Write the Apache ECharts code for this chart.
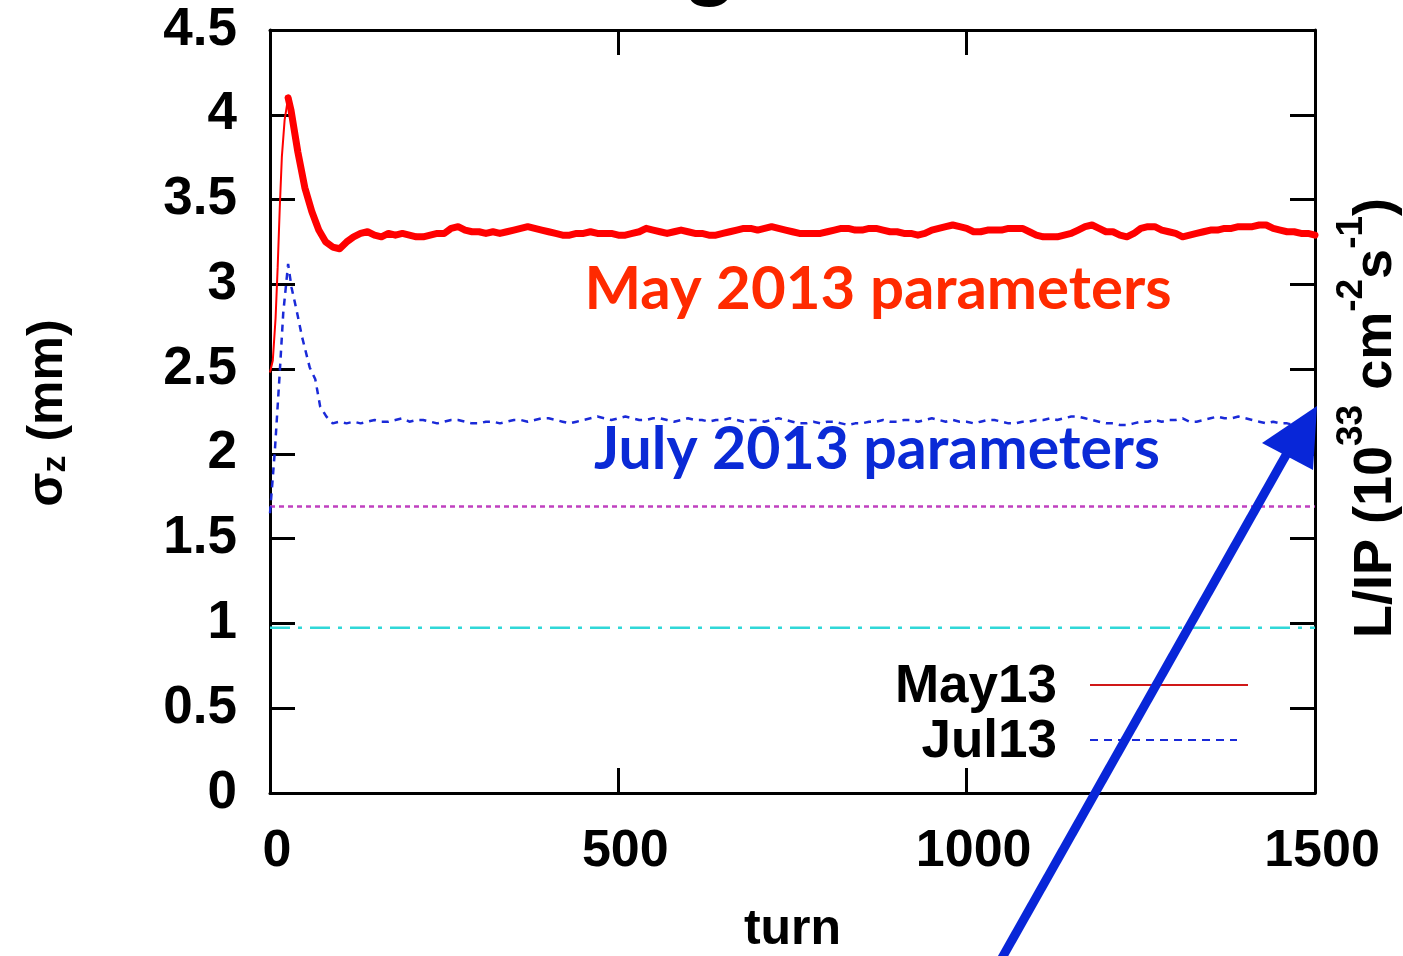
<!DOCTYPE html>
<html>
<head>
<meta charset="utf-8">
<script src="https://cdn.jsdelivr.net/npm/echarts@6/dist/echarts.min.js"></script>
<style>
  html, body { margin: 0; padding: 0; background: #fff; }
  #chart { width: 1403px; height: 956px; }
</style>
</head>
<body>
<div id="chart"></div>
<script>
// Bunch length sigma_z (mm) versus turn, two parameter sets

// May13: fast rise to the peak, then the noisy equilibrium
const mayRiseTurns = [0, 4, 8, 11, 14, 17, 21, 26];
const mayRiseSigma = [2.48, 2.55, 2.80, 3.10, 3.45, 3.75, 3.97, 4.10];

const mayTurns = [26, 30, 40, 50, 60, 70, 80, 90, 100, 110, 120, 130, 140, 150, 160, 170, 180, 190, 200,
  210, 220, 230, 240, 250, 260, 270, 280, 290, 300, 310, 320, 330, 340, 350, 360, 370, 380, 390, 400,
  410, 420, 430, 440, 450, 460, 470, 480, 490, 500, 510, 520, 530, 540, 550, 560, 570, 580, 590, 600,
  610, 620, 630, 640, 650, 660, 670, 680, 690, 700, 710, 720, 730, 740, 750, 760, 770, 780, 790, 800,
  810, 820, 830, 840, 850, 860, 870, 880, 890, 900, 910, 920, 930, 940, 950, 960, 970, 980, 990, 1000,
  1010, 1020, 1030, 1040, 1050, 1060, 1070, 1080, 1090, 1100, 1110, 1120, 1130, 1140, 1150, 1160, 1170, 1180, 1190, 1200,
  1210, 1220, 1230, 1240, 1250, 1260, 1270, 1280, 1290, 1300, 1310, 1320, 1330, 1340, 1350, 1360, 1370, 1380, 1390, 1400,
  1410, 1420, 1430, 1440, 1450, 1460, 1470, 1480, 1490, 1500];
const maySigma = [4.10, 4.03, 3.78, 3.57, 3.43, 3.32, 3.25, 3.22, 3.21, 3.25, 3.28, 3.30, 3.31, 3.29, 3.28, 3.30, 3.29, 3.30, 3.29,
  3.28, 3.28, 3.29, 3.30, 3.30, 3.33, 3.34, 3.32, 3.31, 3.31, 3.30, 3.31, 3.30, 3.31, 3.32, 3.33, 3.34, 3.33, 3.32, 3.31,
  3.30, 3.29, 3.29, 3.30, 3.30, 3.31, 3.30, 3.30, 3.30, 3.29, 3.29, 3.30, 3.31, 3.33, 3.32, 3.31, 3.30, 3.31, 3.32, 3.31,
  3.30, 3.30, 3.29, 3.29, 3.30, 3.31, 3.32, 3.33, 3.33, 3.32, 3.33, 3.34, 3.33, 3.32, 3.31, 3.30, 3.30, 3.30, 3.30, 3.31,
  3.32, 3.33, 3.33, 3.32, 3.32, 3.33, 3.33, 3.32, 3.31, 3.31, 3.30, 3.30, 3.29, 3.30, 3.32, 3.33, 3.34, 3.35, 3.34, 3.33,
  3.31, 3.31, 3.32, 3.32, 3.32, 3.33, 3.33, 3.33, 3.31, 3.29, 3.28, 3.28, 3.28, 3.29, 3.30, 3.32, 3.34, 3.35, 3.33, 3.31,
  3.31, 3.29, 3.28, 3.30, 3.33, 3.34, 3.34, 3.32, 3.31, 3.30, 3.28, 3.29, 3.30, 3.31, 3.32, 3.32, 3.33, 3.33, 3.34, 3.34,
  3.34, 3.35, 3.35, 3.33, 3.32, 3.31, 3.31, 3.30, 3.30, 3.29];

// Jul13: rise to the peak and settle near 2.2 mm
const julTurns = [0, 7, 14, 19, 26, 31, 38, 46, 57, 65, 72, 81, 90, 100, 110, 120, 130, 140, 150, 160, 170, 180, 190, 200,
  210, 220, 230, 240, 250, 260, 270, 280, 290, 300, 310, 320, 330, 340, 350, 360, 370, 380, 390, 400,
  410, 420, 430, 440, 450, 460, 470, 480, 490, 500, 510, 520, 530, 540, 550, 560, 570, 580, 590, 600,
  610, 620, 630, 640, 650, 660, 670, 680, 690, 700, 710, 720, 730, 740, 750, 760, 770, 780, 790, 800,
  810, 820, 830, 840, 850, 860, 870, 880, 890, 900, 910, 920, 930, 940, 950, 960, 970, 980, 990, 1000,
  1010, 1020, 1030, 1040, 1050, 1060, 1070, 1080, 1090, 1100, 1110, 1120, 1130, 1140, 1150, 1160, 1170, 1180, 1190, 1200,
  1210, 1220, 1230, 1240, 1250, 1260, 1270, 1280, 1290, 1300, 1310, 1320, 1330, 1340, 1350, 1360, 1370, 1380, 1390, 1400,
  1410, 1420, 1430, 1440, 1450, 1460, 1470, 1480, 1490, 1500];
const julSigma = [1.65, 2.02, 2.48, 2.83, 3.12, 2.98, 2.85, 2.69, 2.51, 2.44, 2.28, 2.22, 2.18, 2.19, 2.18, 2.19, 2.18, 2.19, 2.20, 2.19, 2.19, 2.20, 2.21, 2.19,
  2.20, 2.20, 2.19, 2.18, 2.19, 2.20, 2.20, 2.19, 2.18, 2.18, 2.19, 2.19, 2.18, 2.19, 2.20, 2.20, 2.19, 2.20, 2.21, 2.21,
  2.20, 2.19, 2.18, 2.19, 2.20, 2.21, 2.22, 2.21, 2.20, 2.21, 2.22, 2.21, 2.20, 2.20, 2.21, 2.21, 2.20, 2.19, 2.20, 2.21,
  2.20, 2.20, 2.19, 2.20, 2.20, 2.21, 2.20, 2.19, 2.20, 2.20, 2.19, 2.20, 2.21, 2.20, 2.19, 2.18, 2.18, 2.19, 2.18, 2.19,
  2.19, 2.18, 2.17, 2.18, 2.18, 2.19, 2.19, 2.20, 2.19, 2.19, 2.20, 2.20, 2.19, 2.20, 2.21, 2.20, 2.19, 2.20, 2.19, 2.19,
  2.18, 2.19, 2.20, 2.20, 2.19, 2.18, 2.18, 2.19, 2.19, 2.20, 2.20, 2.21, 2.20, 2.21, 2.22, 2.22, 2.21, 2.20, 2.19, 2.18,
  2.18, 2.17, 2.17, 2.18, 2.19, 2.19, 2.20, 2.19, 2.20, 2.20, 2.21, 2.19, 2.19, 2.20, 2.21, 2.22, 2.21, 2.21, 2.22, 2.21,
  2.20, 2.19, 2.18, 2.19, 2.18, 2.18, 2.17, 2.17, 2.18, 2.18];

// Luminosity curves (flat over the run)
const lumTurns = [0, 1500];
const lumMay = [1.69, 1.69];
const lumJul = [0.975, 0.975];

// Axis ticks
const xTicks = [0, 500, 1000, 1500];
const yTicks = [0, 0.5, 1, 1.5, 2, 2.5, 3, 3.5, 4, 4.5];

const zip = (xs, ys) => xs.map((x, i) => [x, ys[i]]);

const LABEL_FONT = 'Liberation Sans, Arial, sans-serif';
const NOTE_FONT = 'Lato, Open Sans, sans-serif';

const frameLine = { show: true, onZero: false, lineStyle: { color: '#000', width: 3 } };
const tickStyle = { show: true, inside: true, length: 25, lineStyle: { color: '#000', width: 3 } };

const chart = echarts.init(document.getElementById('chart'), null, { renderer: 'canvas' });

chart.setOption({
  animation: false,
  backgroundColor: '#fff',
  grid: { left: 270, right: 88, top: 30, bottom: 163, containLabel: false, outerBoundsMode: 'none' },
  xAxis: [
    {
      type: 'value', position: 'bottom',
      min: xTicks[0], max: xTicks[xTicks.length - 1], interval: 500,
      axisLine: frameLine, axisTick: tickStyle, splitLine: { show: false },
      axisLabel: {
        margin: 33, color: '#000', fontFamily: LABEL_FONT, fontWeight: 'bold', fontSize: 52,
        padding: [0, 0, 0, 14], formatter: v => String(v)
      },
      name: 'turn', nameLocation: 'middle', nameGap: 112,
      nameTextStyle: { color: '#000', fontFamily: LABEL_FONT, fontWeight: 'bold', fontSize: 50 }
    },
    {
      type: 'value', position: 'top',
      min: xTicks[0], max: xTicks[xTicks.length - 1], interval: 500,
      axisLine: frameLine, axisTick: tickStyle, axisLabel: { show: false }, splitLine: { show: false }
    }
  ],
  yAxis: [
    {
      type: 'value', position: 'left',
      min: yTicks[0], max: yTicks[yTicks.length - 1], interval: 0.5,
      axisLine: frameLine, axisTick: tickStyle, splitLine: { show: false },
      axisLabel: { margin: 33, color: '#000', fontFamily: LABEL_FONT, fontWeight: 'bold', fontSize: 53, formatter: v => String(v) }
    },
    {
      type: 'value', position: 'right',
      min: yTicks[0], max: yTicks[yTicks.length - 1], interval: 0.5,
      axisLine: frameLine, axisTick: tickStyle, axisLabel: { show: false }, splitLine: { show: false }
    }
  ],
  series: [
    {
      name: 'lumMay', type: 'line', data: zip(lumTurns, lumMay), symbol: 'none', z: 2,
      lineStyle: { color: '#c040c0', width: 2.5, type: [5, 4] }
    },
    {
      name: 'lumJul', type: 'line', data: zip(lumTurns, lumJul), symbol: 'none', z: 2,
      lineStyle: { color: '#30d8d8', width: 2.5, type: [20, 8, 4, 8] }
    },
    {
      name: 'Jul13', type: 'line', data: zip(julTurns, julSigma), symbol: 'none', z: 3,
      lineStyle: { color: '#1a2ad8', width: 2.5, type: [7, 6] }
    },
    {
      name: 'May13', type: 'line', data: zip(mayRiseTurns, mayRiseSigma), symbol: 'none', z: 4,
      lineStyle: { color: '#ff0000', width: 2 }
    },
    {
      name: 'May13', type: 'line', data: zip(mayTurns, maySigma), symbol: 'none', z: 4,
      lineStyle: { color: '#ff0000', width: 7, join: 'round', cap: 'round' }
    }
  ],
  graphic: [
    // fragment of the slide heading above the plot
    { type: 'text', x: 710, y: 6, style: { text: 'g', font: 'bold 86px ' + NOTE_FONT, fill: '#000', align: 'center', verticalAlign: 'bottom' } },
    // vertical axis titles
    {
      type: 'text', x: 45, y: 413, rotation: Math.PI / 2,
      style: {
        text: '{b|σ}{s|z}{b| (mm)}', align: 'center', verticalAlign: 'middle', fill: '#000',
        rich: {
          b: { fontFamily: LABEL_FONT, fontWeight: 'bold', fontSize: 50, fill: '#000', verticalAlign: 'bottom', lineHeight: 56 },
          s: { fontFamily: LABEL_FONT, fontWeight: 'bold', fontSize: 34, fill: '#000', verticalAlign: 'bottom', lineHeight: 56, padding: [14, 0, 0, 0] }
        }
      }
    },
    {
      type: 'text', x: 1368, y: 418, rotation: Math.PI / 2,
      style: {
        text: '{b|L/IP (10}{p|33}{b| cm}{p|-2}{b|s}{p|-1}{b|)}', align: 'center', verticalAlign: 'middle', fill: '#000',
        rich: {
          b: { fontFamily: LABEL_FONT, fontWeight: 'bold', fontSize: 54, fill: '#000', verticalAlign: 'bottom', lineHeight: 70 },
          p: { fontFamily: LABEL_FONT, fontWeight: 'bold', fontSize: 37, fill: '#000', verticalAlign: 'top', lineHeight: 42 }
        }
      }
    },
    // legend
    { type: 'text', x: 1057, y: 687, style: { text: 'May13', font: 'bold 53px ' + LABEL_FONT, fill: '#000', align: 'right', verticalAlign: 'middle' } },
    { type: 'line', shape: { x1: 1090, y1: 685, x2: 1248, y2: 685 }, style: { stroke: '#d01818', lineWidth: 2 } },
    { type: 'text', x: 1057, y: 742, style: { text: 'Jul13', font: 'bold 53px ' + LABEL_FONT, fill: '#000', align: 'right', verticalAlign: 'middle' } },
    { type: 'line', shape: { x1: 1090, y1: 740, x2: 1237, y2: 740 }, style: { stroke: '#1a2ad8', lineWidth: 2, lineDash: [8, 6] } },
    // annotations
    { type: 'text', x: 878, y: 290, z: 10, style: { text: 'May 2013 parameters', font: 'bold 60px ' + NOTE_FONT, fill: '#ff2a00', align: 'center', verticalAlign: 'middle' } },
    { type: 'text', x: 877, y: 450, z: 10, style: { text: 'July 2013 parameters', font: 'bold 59px ' + NOTE_FONT, fill: '#0a2ad6', align: 'center', verticalAlign: 'middle' } },
    { type: 'line', z: 20, shape: { x1: 998, y1: 965, x2: 1290, y2: 448 }, style: { stroke: '#0826d8', lineWidth: 9 } },
    { type: 'polygon', z: 20, shape: { points: [[1317, 406], [1262, 443], [1313, 470]] }, style: { fill: '#0826d8' } }
  ]
});
</script>
</body>
</html>
